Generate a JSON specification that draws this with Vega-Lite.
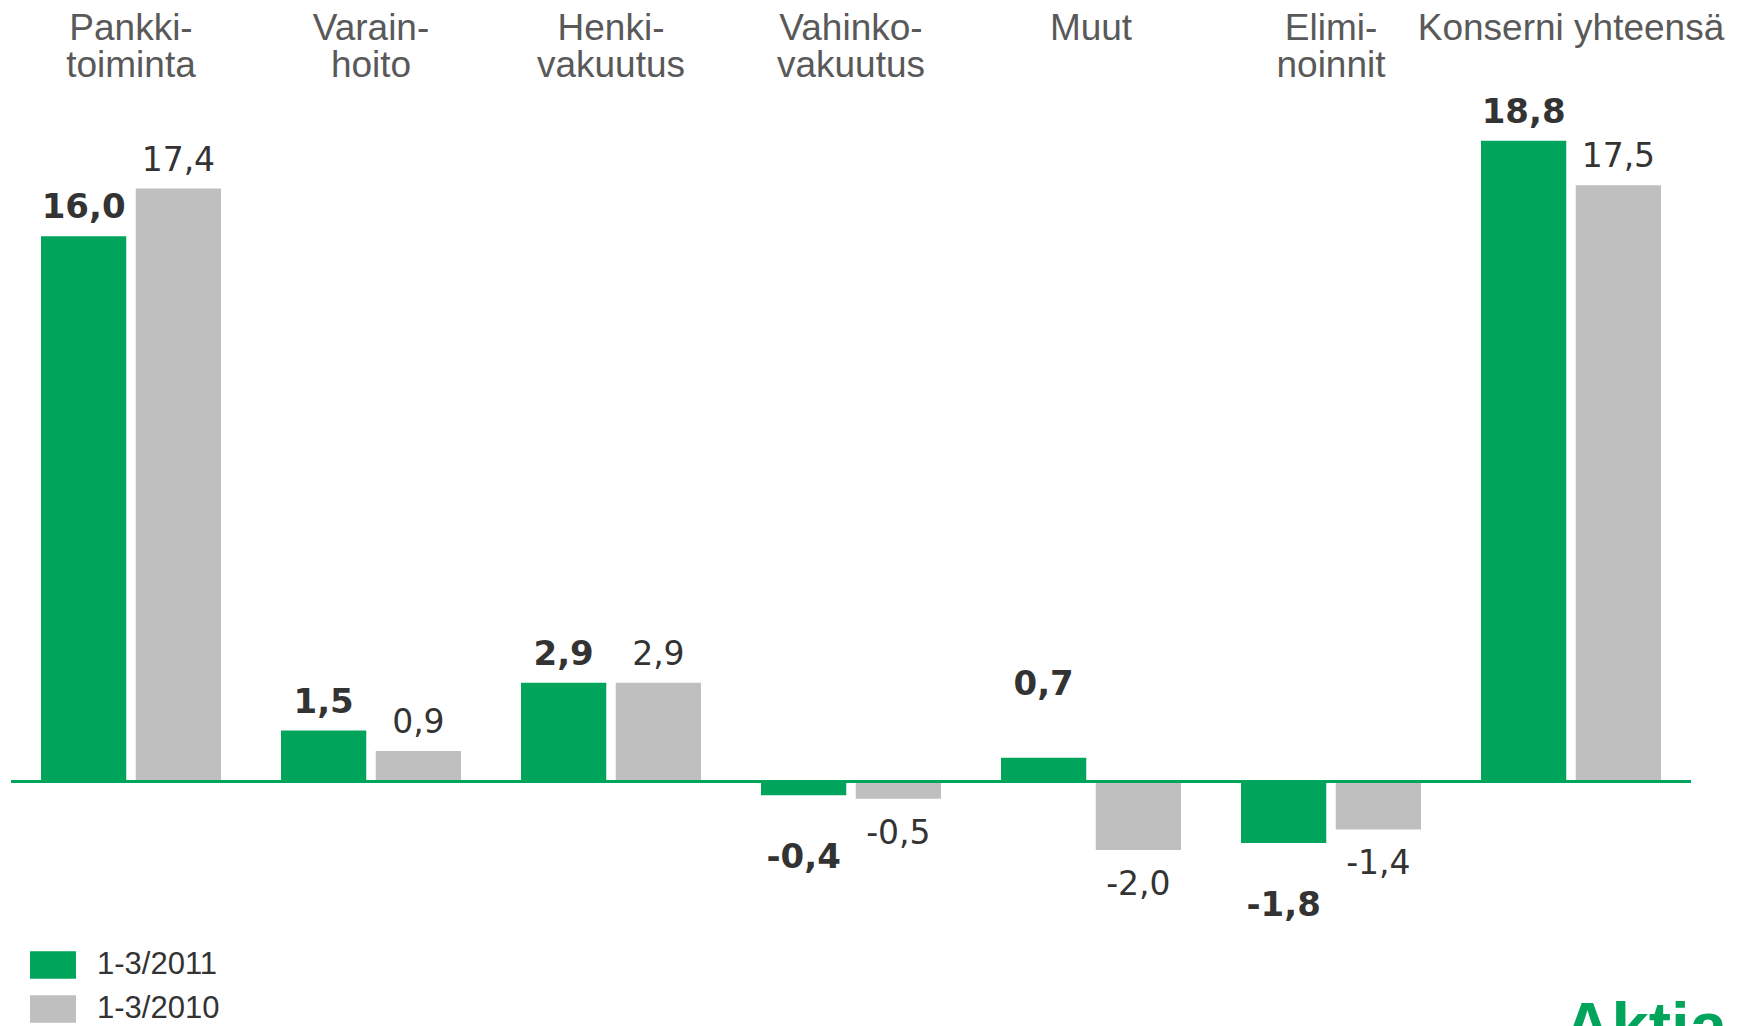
{
  "$schema": "https://vega.github.io/schema/vega-lite/v6.json",
  "width": 1680,
  "height": 750,
  "autosize": {"type": "none"},
  "padding": {"left": 11, "top": 134, "right": 69, "bottom": 142},
  "background": "#ffffff",
  "title": {
    "text": "Aktia",
    "orient": "bottom",
    "anchor": "end",
    "frame": "group",
    "font": "Liberation Sans",
    "fontSize": 67,
    "fontWeight": "bold",
    "color": "#00A55B",
    "baseline": "alphabetic",
    "offset": 25,
    "dx": 36
  },
  "data": {
    "values": [
      {"segment": "Pankki-|toiminta", "series": "1-3/2011", "value": 16.0, "label": "16,0"},
      {"segment": "Pankki-|toiminta", "series": "1-3/2010", "value": 17.4, "label": "17,4"},
      {"segment": "Varain-|hoito", "series": "1-3/2011", "value": 1.5, "label": "1,5"},
      {"segment": "Varain-|hoito", "series": "1-3/2010", "value": 0.9, "label": "0,9"},
      {"segment": "Henki-|vakuutus", "series": "1-3/2011", "value": 2.9, "label": "2,9"},
      {"segment": "Henki-|vakuutus", "series": "1-3/2010", "value": 2.9, "label": "2,9"},
      {"segment": "Vahinko-|vakuutus", "series": "1-3/2011", "value": -0.4, "label": "-0,4"},
      {"segment": "Vahinko-|vakuutus", "series": "1-3/2010", "value": -0.5, "label": "-0,5"},
      {"segment": "Muut", "series": "1-3/2011", "value": 0.7, "label": "0,7"},
      {"segment": "Muut", "series": "1-3/2010", "value": -2.0, "label": "-2,0"},
      {"segment": "Elimi-|noinnit", "series": "1-3/2011", "value": -1.8, "label": "-1,8"},
      {"segment": "Elimi-|noinnit", "series": "1-3/2010", "value": -1.4, "label": "-1,4"},
      {"segment": "Konserni yhteensä", "series": "1-3/2011", "value": 18.8, "label": "18,8"},
      {"segment": "Konserni yhteensä", "series": "1-3/2010", "value": 17.5, "label": "17,5"}
    ]
  },
  "encoding": {
    "x": {
      "field": "segment",
      "type": "nominal",
      "sort": ["Pankki-|toiminta", "Varain-|hoito", "Henki-|vakuutus", "Vahinko-|vakuutus", "Muut", "Elimi-|noinnit", "Konserni yhteensä"],
      "scale": {"paddingInner": 0.25, "paddingOuter": 0.125},
      "axis": {
        "orient": "top",
        "title": null,
        "labelAngle": 0,
        "domain": false,
        "ticks": false,
        "tickSize": 0,
        "labelPadding": 124,
        "labelBaseline": "top",
        "labelFont": "Liberation Sans",
        "labelFontSize": 37,
        "labelColor": "#595959",
        "labelLineHeight": 37.5,
        "labelLimit": 0,
        "labelOverlap": false,
        "labelExpr": "split(datum.label, '|')"
      }
    },
    "xOffset": {
      "field": "series",
      "type": "nominal",
      "scale": {"domain": ["1-3/2011", "1-3/2010"], "paddingInner": 0.1, "paddingOuter": 0}
    },
    "y": {
      "field": "value",
      "type": "quantitative",
      "scale": {"domain": [-3, 19], "nice": false, "zero": false},
      "axis": null
    }
  },
  "layer": [
    {
      "mark": {"type": "bar"},
      "encoding": {
        "color": {
          "field": "series",
          "type": "nominal",
          "scale": {"domain": ["1-3/2011", "1-3/2010"], "range": ["#00A55B", "#BFBFBF"]},
          "legend": {
            "orient": "none",
            "legendX": 19,
            "legendY": 808,
            "title": null,
            "padding": 0,
            "symbolType": "M-1,-0.6H1V0.6H-1Z",
            "symbolSize": 2116,
            "symbolStrokeWidth": 0,
            "symbolOpacity": 1,
            "labelFont": "Liberation Sans",
            "labelFontSize": 31,
            "labelColor": "#333333",
            "labelOffset": 21,
            "rowPadding": 6
          }
        }
      }
    },
    {
      "mark": {"type": "rule", "color": "#00A55B", "strokeWidth": 2},
      "encoding": {"y": {"datum": 0}, "x": null, "xOffset": null}
    },
    {
      "transform": [{"filter": "datum.series == '1-3/2011' && datum.value >= 1"}],
      "mark": {"type": "text", "font": "DejaVu Sans", "fontSize": 34, "fontWeight": "bold", "color": "#333333", "baseline": "alphabetic", "dy": -18},
      "encoding": {"text": {"field": "label"}}
    },
    {
      "transform": [{"filter": "datum.series == '1-3/2011' && datum.value > 0 && datum.value < 1"}],
      "mark": {"type": "text", "font": "DejaVu Sans", "fontSize": 34, "fontWeight": "bold", "color": "#333333", "baseline": "alphabetic", "dy": -63},
      "encoding": {"text": {"field": "label"}}
    },
    {
      "transform": [{"filter": "datum.series == '1-3/2011' && datum.value < 0"}],
      "mark": {"type": "text", "font": "DejaVu Sans", "fontSize": 34, "fontWeight": "bold", "color": "#333333", "baseline": "alphabetic", "dy": 73},
      "encoding": {"text": {"field": "label"}}
    },
    {
      "transform": [{"filter": "datum.series == '1-3/2010' && datum.value > 0"}],
      "mark": {"type": "text", "font": "DejaVu Sans", "fontSize": 33, "color": "#333333", "baseline": "alphabetic", "dy": -18},
      "encoding": {"text": {"field": "label"}}
    },
    {
      "transform": [{"filter": "datum.series == '1-3/2010' && datum.value < 0"}],
      "mark": {"type": "text", "font": "DejaVu Sans", "fontSize": 33, "color": "#333333", "baseline": "alphabetic", "dy": 45},
      "encoding": {"text": {"field": "label"}}
    }
  ],
  "config": {
    "view": {"stroke": null},
    "bar": {"stroke": null}
  }
}
